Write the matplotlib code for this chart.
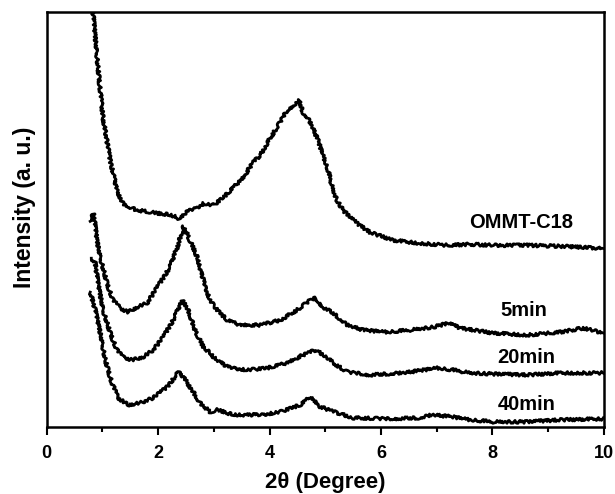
import matplotlib
matplotlib.use("Agg")
import matplotlib.pyplot as plt
from matplotlib.ticker import MultipleLocator

plt.rcParams['font.family'] = ['Liberation Sans', 'DejaVu Sans']
plt.rcParams['font.weight'] = 'bold'

# 2theta (degree) vs intensity (a.u., curves stacked with offsets)
ommt_x = [0.80, 0.83, 0.92, 1.01, 1.14, 1.26, 1.37, 1.50, 1.62, 1.80, 1.98, 2.16, 2.30,
          2.39, 2.48, 2.57, 2.70, 2.81, 2.99, 3.17, 3.35, 3.53, 3.70, 3.83, 3.95, 4.13,
          4.31, 4.46, 4.53, 4.60, 4.69, 4.78, 4.87, 4.99, 5.05, 5.14, 5.21, 5.32, 5.45,
          5.57, 5.80, 6.22, 6.70, 7.19, 7.60, 8.01, 8.62, 9.22, 9.99]
ommt_y = [460, 415, 360, 310, 267, 237, 224, 220, 217, 216, 214, 213, 211,
          208, 214, 217, 220, 224, 222, 230, 240, 250, 265, 272, 284, 300,
          317, 324, 327, 315, 309, 299, 287, 267, 257, 237, 227, 217, 210,
          204, 195, 187, 184, 182, 183, 182, 182, 181, 179]

min5_x = [0.78, 0.84, 0.90, 0.96, 1.08, 1.19, 1.32, 1.46, 1.62, 1.80, 2.03, 2.21, 2.34,
          2.43, 2.46, 2.57, 2.70, 2.81, 2.93, 3.06, 3.24, 3.47, 3.83, 4.19, 4.49, 4.73,
          4.82, 4.96, 5.14, 5.39, 5.68, 6.11, 6.52, 6.94, 7.21, 7.42, 8.01, 8.62, 9.22,
          9.63, 9.99]
min5_y = [206, 214, 187, 170, 144, 127, 119, 115, 120, 124, 144, 160, 180,
          197, 201, 187, 170, 147, 127, 117, 107, 102, 102, 107, 117, 127,
          129, 120, 114, 102, 97, 95, 97, 100, 104, 99, 94, 92, 95,
          99, 94]

min20_x = [0.80, 0.87, 0.92, 1.01, 1.14, 1.26, 1.37, 1.53, 1.73, 1.91, 2.09, 2.27, 2.39,
           2.45, 2.54, 2.66, 2.81, 2.93, 2.99, 3.24, 3.60, 3.96, 4.31, 4.60, 4.82, 5.03,
           5.14, 5.39, 5.80, 6.40, 7.01, 7.29, 7.60, 8.01, 8.62, 9.22, 9.99]
min20_y = [169, 164, 144, 117, 94, 77, 70, 67, 70, 77, 90, 107, 122,
           127, 117, 97, 80, 74, 70, 60, 57, 59, 64, 72, 77, 70,
           64, 55, 52, 54, 59, 57, 54, 53, 52, 54, 54]

min40_x = [0.78, 0.87, 0.96, 1.05, 1.17, 1.28, 1.46, 1.68, 1.91, 2.16, 2.30, 2.36, 2.45,
           2.61, 2.75, 2.93, 3.06, 3.35, 3.83, 4.19, 4.55, 4.73, 4.91, 5.21, 5.50, 6.11,
           6.70, 6.92, 7.29, 7.60, 8.01, 8.62, 9.22, 9.99]
min40_y = [135, 117, 94, 67, 44, 29, 22, 24, 29, 40, 50, 55, 50,
           37, 24, 15, 17, 12, 12, 15, 22, 30, 20, 14, 9, 8,
           9, 12, 10, 7, 5, 5, 7, 8]

labels = ["OMMT-C18", "5min", "20min", "40min"]
label_pos = [(8.52, 205), (8.57, 117), (8.61, 69), (8.62, 22)]

fig = plt.figure(figsize=(6.15, 4.94), dpi=100)
ax = fig.add_axes([0.076, 0.136, 0.906, 0.840])

curves = [(ommt_x, ommt_y), (min5_x, min5_y), (min20_x, min20_y), (min40_x, min40_y)]
for xs, ys in curves:
    line, = ax.plot(xs, ys, color="black", lw=2.0)
    # rough, noisy-looking trace like the raw diffractogram
    line.set_sketch_params(scale=1.5, length=3, randomness=4)

for lab, (tx, ty) in zip(labels, label_pos):
    ax.text(tx, ty, lab, ha="center", va="center", fontsize=14.5, fontweight="bold")

ax.set_xlim(0, 10)
ax.set_ylim(0, 416)
ax.xaxis.set_major_locator(MultipleLocator(2))
ax.xaxis.set_minor_locator(MultipleLocator(1))
ax.set_yticks([])
ax.tick_params(axis="x", which="major", direction="out", length=6, width=1.5,
               labelsize=13, pad=7)
ax.tick_params(axis="x", which="minor", direction="out", length=3.5, width=1.5)
for sp in ax.spines.values():
    sp.set_linewidth(1.8)

ax.set_xlabel("2θ (Degree)", fontsize=16, fontweight="bold", labelpad=7)
ax.set_ylabel("Intensity (a. u.)", fontsize=16.5, fontweight="bold")
ax.yaxis.set_label_coords(-0.020, 0.53)

fig.savefig("out.png", dpi=100)
